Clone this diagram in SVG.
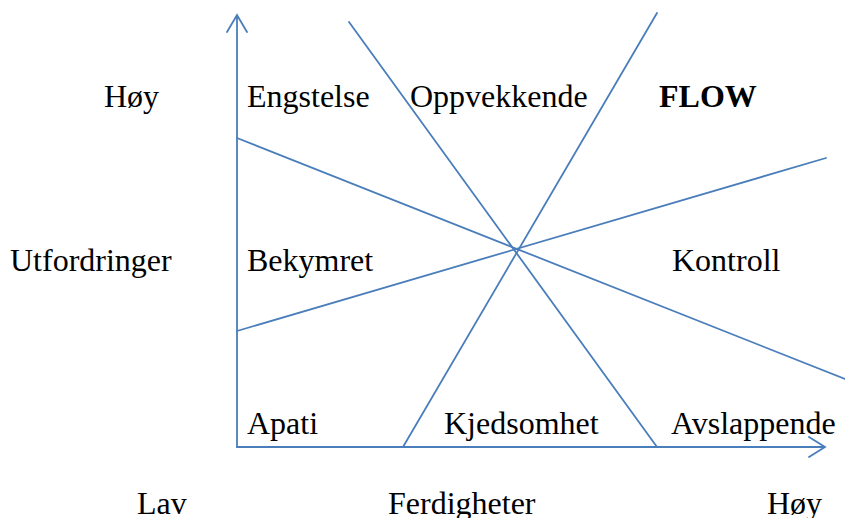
<svg xmlns="http://www.w3.org/2000/svg" width="845" height="518" viewBox="0 0 845 518">
<style>
.ln{stroke:#4a7ebb;stroke-width:1.8;fill:none;stroke-linecap:round}
.t{font-family:"Liberation Serif","Times New Roman",serif;font-size:32px;fill:#000}
.b{font-weight:bold}
</style>
<rect width="845" height="518" fill="#fff"/>
<g id="connectors">
<path class="ln" d="M237,447 V15 M227,32 L237,15 L247,32"/>
<path class="ln" d="M237,447 H825 M809,437 L825,447 L809,457"/>
<path class="ln" d="M237,138 L845,379"/>
<path class="ln" d="M237,331 L826,158"/>
<path class="ln" d="M349,22 L657,447"/>
<path class="ln" d="M657,13 L403,447"/>
</g>
<g id="labels">
<text class="t" x="104" y="107">Høy</text>
<text class="t" x="247" y="107">Engstelse</text>
<text class="t" x="410" y="107">Oppvekkende</text>
<text class="t b" x="659" y="107">FLOW</text>
<text class="t" x="10" y="271">Utfordringer</text>
<text class="t" x="247" y="271">Bekymret</text>
<text class="t" x="672" y="271">Kontroll</text>
<text class="t" x="247" y="434">Apati</text>
<text class="t" x="444" y="434">Kjedsomhet</text>
<text class="t" x="671" y="434">Avslappende</text>
<text class="t" x="137" y="514">Lav</text>
<text class="t" x="388" y="514">Ferdigheter</text>
<text class="t" x="767" y="514">Høy</text>
</g>
</svg>
